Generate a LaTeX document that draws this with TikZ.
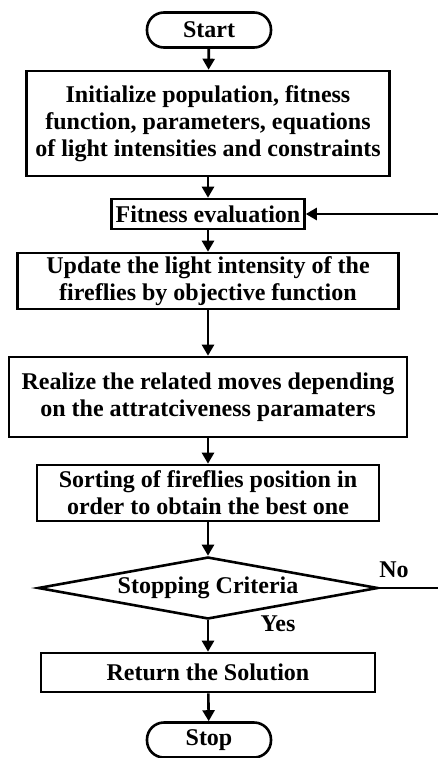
\documentclass[tikz,border=0pt]{standalone}
\usepackage{fontspec}
\setmainfont{Liberation Serif}
\usetikzlibrary{arrows.meta, shapes.geometric}

\begin{document}
\begin{tikzpicture}[x=1pt, y=-1pt,
    boxfont/.style={font=\bfseries\fontsize{24}{27}\selectfont},
    proc/.style={draw, boxfont, line width=2.6pt, align=center, inner sep=0pt},
    term/.style={proc, rounded corners=17pt, minimum width=124pt, minimum height=35pt},
    decision/.style={draw, diamond, aspect=5.5, boxfont, line width=2.6pt, inner sep=0pt,
                     minimum width=340pt, minimum height=62pt},
    flow/.style={-{Triangle[length=11pt, width=12pt]}, line width=2.6pt},
    lbl/.style={boxfont}
  ]

  % ---- Page frame ----
  \useasboundingbox (0,0) rectangle (438,758);
  \clip (0,0) rectangle (438,758);

  % ---- Blocks ----
  \node[term] (start) at (209,30) {Start};
  \node[proc, minimum width=363pt, minimum height=105pt] (init) at (208,123.5)
    {Initialize population, fitness\\function, parameters, equations\\of light intensities and constraints};
  \node[proc, minimum width=193pt, minimum height=30pt] (fitness) at (208,214)
    {Fitness evaluation};
  \node[proc, minimum width=381pt, minimum height=56pt] (update) at (208,281)
    {Update the light intensity of the\\fireflies by objective function};
  \node[proc, minimum width=398pt, minimum height=80pt] (realize) at (208,397)
    {Realize the related moves depending\\on the attratciveness paramaters};
  \node[proc, minimum width=342pt, minimum height=56pt] (sorting) at (208,493)
    {Sorting of fireflies position in\\order to obtain the best one};
  \node[decision] (stopcrit) at (208,588) {Stopping Criteria};
  \node[proc, minimum width=334pt, minimum height=39pt] (ret) at (208,672.5)
    {Return the Solution};
  \node[term] (stop) at (209,740) {Stop};

  % ---- Main flow ----
  \draw[flow] (start) -- (init);
  \draw[flow] (init) -- (fitness);
  \draw[flow] (fitness) -- (update);
  \draw[flow] (update) -- (realize);
  \draw[flow] (realize) -- (sorting);
  \draw[flow] (sorting) -- (stopcrit);
  \draw[flow] (stopcrit) -- (ret);
  \draw[flow] (ret) -- (stop);

  % ---- Loop back (No) ----
  \coordinate (loopx) at (446,0);
  \draw[flow] (stopcrit.east) -| (loopx |- fitness.east) -- (fitness.east);

  % ---- Branch labels ----
  \node[lbl] (nolbl) at (394,570) {No};
  \node[lbl] (yeslbl) at (278,624) {Yes};

\end{tikzpicture}
\end{document}
